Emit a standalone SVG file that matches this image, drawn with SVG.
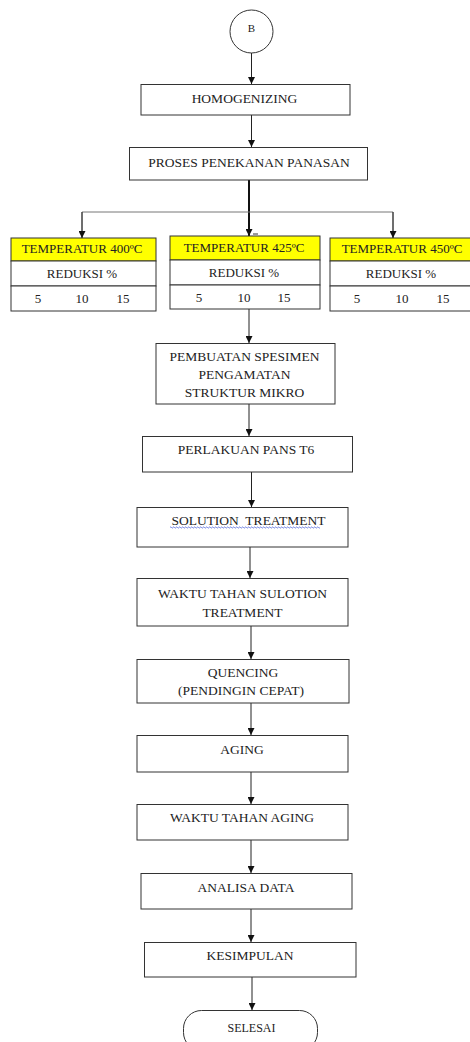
<svg xmlns="http://www.w3.org/2000/svg" width="470" height="1042" viewBox="0 0 470 1042">
<style>
.box{fill:#fff;stroke:#333;stroke-width:1}
.hdr{fill:#ffff00;stroke:#333;stroke-width:1}
text{font-family:'Liberation Serif','Times New Roman',Times,serif;fill:#222;text-anchor:middle}
.t{font-size:13.5px}
.s{font-size:13px}
.c{stroke:#222;stroke-width:1;fill:none}
</style>
<defs>
<marker id="ah" viewBox="0 0 8 8" refX="8" refY="4" markerWidth="8" markerHeight="7" markerUnits="userSpaceOnUse" orient="auto">
<path d="M0,0 L8,4 L0,8 Z" fill="#111"/>
</marker>
</defs>
<rect width="470" height="1042" fill="#fff"/>
<g id="connectors">
<line class="c" x1="251.5" y1="53" x2="251.5" y2="84" marker-end="url(#ah)"/>
<line class="c" x1="251.5" y1="115" x2="251.5" y2="147" marker-end="url(#ah)"/>
<line x1="249" y1="180" x2="249" y2="236" stroke="#111" stroke-width="2" marker-end="url(#ah)"/>
<polyline points="82,238 82,212 393,212 393,238" fill="none" stroke="#777" stroke-width="1"/>
<line class="c" x1="82" y1="212" x2="82" y2="238" marker-end="url(#ah)"/>
<line class="c" x1="393" y1="212" x2="393" y2="238" marker-end="url(#ah)"/>
<line x1="253" y1="234" x2="258" y2="234" stroke="#333" stroke-width="1"/>
<line class="c" x1="249" y1="309" x2="249" y2="343" marker-end="url(#ah)"/>
<line class="c" x1="249" y1="404" x2="249" y2="436" marker-end="url(#ah)"/>
<line class="c" x1="251.5" y1="472" x2="251.5" y2="507" marker-end="url(#ah)"/>
<line class="c" x1="250" y1="547" x2="250" y2="578" marker-end="url(#ah)"/>
<line class="c" x1="251" y1="626" x2="251" y2="659" marker-end="url(#ah)"/>
<line class="c" x1="251" y1="703" x2="251" y2="735" marker-end="url(#ah)"/>
<line class="c" x1="251" y1="772" x2="251" y2="804" marker-end="url(#ah)"/>
<line class="c" x1="251" y1="840" x2="251" y2="873" marker-end="url(#ah)"/>
<line class="c" x1="251" y1="909" x2="251" y2="942" marker-end="url(#ah)"/>
<line class="c" x1="252" y1="977" x2="252" y2="1010" marker-end="url(#ah)"/>
</g>
<g id="start">
<circle cx="251.5" cy="31.5" r="21.5" class="box"/>
<text class="s" x="251.5" y="32" style="font-size:11px">B</text>
</g>
<g id="homogenizing">
<rect class="box" x="141" y="84.5" width="209" height="30.5"/>
<text class="t" x="244.5" y="102.5">HOMOGENIZING</text>
</g>
<g id="proses">
<rect class="box" x="129.5" y="147.5" width="238" height="32.5"/>
<text class="t" x="249" y="166.5">PROSES PENEKANAN PANASAN</text>
</g>
<g id="temp400">
<rect class="hdr" x="11" y="238" width="145" height="23"/>
<rect class="box" x="11" y="261" width="145" height="25"/>
<rect class="box" x="11" y="286" width="145" height="25"/>
<text class="s" x="82" y="252.5">TEMPERATUR 400ºC</text>
<text class="s" x="82" y="277.5">REDUKSI %</text>
<text class="s" x="38" y="302.5">5</text>
<text class="s" x="82" y="302.5">10</text>
<text class="s" x="123" y="302.5">15</text>
</g>
<g id="temp425">
<rect class="hdr" x="170" y="236" width="150" height="24"/>
<rect class="box" x="170" y="260" width="150" height="25"/>
<rect class="box" x="170" y="285" width="150" height="24"/>
<text class="s" x="244" y="251.5">TEMPERATUR 425ºC</text>
<text class="s" x="244" y="276.5">REDUKSI %</text>
<text class="s" x="199" y="301.5">5</text>
<text class="s" x="244" y="301.5">10</text>
<text class="s" x="284" y="301.5">15</text>
</g>
<g id="temp450">
<rect class="hdr" x="330" y="238" width="145" height="23"/>
<rect class="box" x="330" y="261" width="145" height="25"/>
<rect class="box" x="330" y="286" width="145" height="25"/>
<text class="s" x="402" y="252.5">TEMPERATUR 450ºC</text>
<text class="s" x="401" y="277.5">REDUKSI %</text>
<text class="s" x="357" y="302.5">5</text>
<text class="s" x="402" y="302.5">10</text>
<text class="s" x="443" y="302.5">15</text>
</g>
<g id="pembuatan">
<rect class="box" x="156" y="343.5" width="179" height="60.5"/>
<text class="t" x="244.5" y="360.5">PEMBUATAN SPESIMEN</text>
<text class="t" x="244.5" y="378.5">PENGAMATAN</text>
<text class="t" x="244.5" y="396.5">STRUKTUR MIKRO</text>
</g>
<g id="perlakuan">
<rect class="box" x="142.5" y="436.5" width="210" height="35.5"/>
<text class="t" x="246" y="454">PERLAKUAN PANS T6</text>
</g>
<g id="solution">
<rect class="box" x="137" y="507.5" width="211" height="39.5"/>
<text class="t" x="248.5" y="524.5" xml:space="preserve">SOLUTION  TREATMENT</text>
<path d="M170,527.5 q0.75,-1.2 1.5,0 t1.5,0 t1.5,0 t1.5,0 t1.5,0 t1.5,0 t1.5,0 t1.5,0 t1.5,0 t1.5,0 t1.5,0 t1.5,0 t1.5,0 t1.5,0 t1.5,0 t1.5,0 t1.5,0 t1.5,0 t1.5,0 t1.5,0 t1.5,0 t1.5,0 t1.5,0 t1.5,0 t1.5,0 t1.5,0 t1.5,0 t1.5,0 t1.5,0 t1.5,0 t1.5,0 t1.5,0 t1.5,0 t1.5,0 t1.5,0 t1.5,0 t1.5,0 t1.5,0 t1.5,0 t1.5,0 t1.5,0 t1.5,0 t1.5,0 t1.5,0 t1.5,0 t1.5,0 t1.5,0 t1.5,0 t1.5,0 t1.5,0 t1.5,0 t1.5,0 t1.5,0 t1.5,0 t1.5,0 t1.5,0 t1.5,0 t1.5,0 t1.5,0 t1.5,0 t1.5,0 t1.5,0 t1.5,0 t1.5,0 t1.5,0 t1.5,0 t1.5,0 t1.5,0 t1.5,0 t1.5,0 t1.5,0 t1.5,0 t1.5,0 t1.5,0 t1.5,0 t1.5,0 t1.5,0 t1.5,0 t1.5,0 t1.5,0 t1.5,0 t1.5,0 t1.5,0 t1.5,0 t1.5,0 t1.5,0 t1.5,0 t1.5,0 t1.5,0 t1.5,0 t1.5,0 t1.5,0 t1.5,0 t1.5,0 t1.5,0 t1.5,0 t1.5,0 t1.5,0 t1.5,0 t1.5,0" fill="none" stroke="#4a5fd8" stroke-width="0.8"/>
</g>
<g id="waktu-solution">
<rect class="box" x="137" y="578.5" width="211" height="47.5"/>
<text class="t" x="242.5" y="597.5">WAKTU TAHAN SULOTION</text>
<text class="t" x="242.5" y="616.5">TREATMENT</text>
</g>
<g id="quencing">
<rect class="box" x="137" y="659.5" width="212" height="43.5"/>
<text class="t" x="243" y="676.5">QUENCING</text>
<text class="t" x="241" y="694.5">(PENDINGIN CEPAT)</text>
</g>
<g id="aging">
<rect class="box" x="137" y="735.5" width="211" height="36.5"/>
<text class="t" x="242" y="753.5">AGING</text>
</g>
<g id="waktu-aging">
<rect class="box" x="137" y="804.5" width="211" height="35.5"/>
<text class="t" x="242" y="821.5">WAKTU TAHAN AGING</text>
</g>
<g id="analisa">
<rect class="box" x="141" y="873.5" width="211" height="35.5"/>
<text class="t" x="246" y="891.5">ANALISA DATA</text>
</g>
<g id="kesimpulan">
<rect class="box" x="144.5" y="942.5" width="211.5" height="34.5"/>
<text class="t" x="250" y="959.5">KESIMPULAN</text>
</g>
<g id="selesai">
<rect class="box" x="183.5" y="1010.5" width="134" height="40" rx="18" ry="18"/>
<text class="s" x="251.5" y="1032" style="font-size:12px">SELESAI</text>
</g>
</svg>
